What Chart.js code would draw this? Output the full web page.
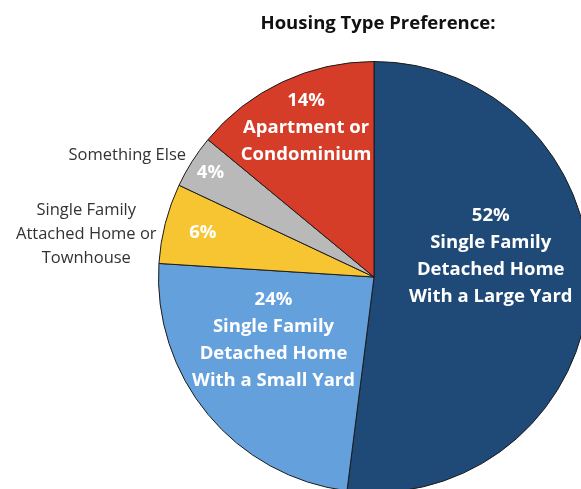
<!DOCTYPE html>
<html>
<head>
<meta charset="utf-8">
<script src="https://cdn.jsdelivr.net/npm/chart.js@4/dist/chart.umd.min.js"></script>
<style>
  html, body { margin: 0; padding: 0; width: 581px; height: 489px; overflow: hidden; background: #fff; }
  #title {
    position: absolute; left: 0; top: 9px; width: 756px; text-align: center;
    font: bold 18.5px "Open Sans", Lato, sans-serif; color: #111;
  }
  #pie { position: absolute; left: 0; top: 0; }
</style>
</head>
<body>
<canvas id="pie" width="600" height="500"></canvas>
<div id="title">Housing Type Preference:</div>
<script>
// Data: slices go clockwise from 12 o'clock
const categories = [
  "Single Family Detached Home With a Large Yard",
  "Single Family Detached Home With a Small Yard",
  "Single Family Attached Home or Townhouse",
  "Something Else",
  "Apartment or Condominium",
];
const values     = [52, 24, 6, 4, 14];
const colors     = ["#1f4a77", "#64a0dc", "#f7c531", "#b9b9b9", "#d63d29"];

// text inside each slice, and the name written outside for the thin ones
const insideLines = [
  ["52%", "Single Family", "Detached Home", "With a Large Yard"],
  ["24%", "Single Family", "Detached Home", "With a Small Yard"],
  ["6%"],
  ["4%"],
  ["14%", "Apartment or", "Condominium"],
];
const outsideLines = [
  null,
  null,
  ["Single Family", "Attached Home or", "Townhouse"],
  ["Something Else"],
  null,
];

// label placement: angle (deg, 0 = 3 o'clock) and distance as a share of radius
const insidePos  = [[-10, 0.55], [148, 0.55], [194.5, 0.82], [212.5, 0.90], [245.5, 0.76]];
const outsidePos = [null, null, [188.5, 1.35], [213, 1.04], null];
const outsideAlign = [null, null, "center", "right", null];

const sliceLabels = {
  id: "sliceLabels",
  afterDraw(chart) {
    const ctx  = chart.ctx;
    const meta = chart.getDatasetMeta(0);
    const lineH = 27;
    meta.data.forEach(function (arc, i) {
      const R = arc.outerRadius;
      ctx.save();
      ctx.textBaseline = "middle";

      //white text inside the slice
      let a = insidePos[i][0] * Math.PI / 180;
      let x = arc.x + Math.cos(a) * R * insidePos[i][1];
      let y = arc.y + Math.sin(a) * R * insidePos[i][1];
      let lines = insideLines[i];
      ctx.fillStyle = "#fff";
      ctx.textAlign = "center";
      ctx.font = "bold 18.5px 'Open Sans', Lato, sans-serif";
      lines.forEach(function (t, k) {
        ctx.fillText(t, x, y + (k - (lines.length - 1) / 2) * lineH);
      });

      //dark labels beside the small slices
      if (outsideLines[i]) {
        a = outsidePos[i][0] * Math.PI / 180;
        x = arc.x + Math.cos(a) * R * outsidePos[i][1];
        y = arc.y + Math.sin(a) * R * outsidePos[i][1];
        lines = outsideLines[i];
        ctx.fillStyle = "#333";
        ctx.textAlign = outsideAlign[i];
        ctx.font = "16.5px 'Open Sans', Lato, sans-serif";
        lines.forEach(function (t, k) {
          ctx.fillText(t, x, y + (k - (lines.length - 1) / 2) * 24);
        });
      }
      ctx.restore();
    });
  },
};

new Chart(document.getElementById("pie"), {
  type: "pie",
  data: {
    labels: categories,
    datasets: [{
      data:            values,
      backgroundColor: colors,
      borderColor:     "#1b1b1b",
      borderWidth:     1,
    }],
  },
  options: {
    responsive: false,
    animation:  false,
    // pie sits right/down so it is cut by the window edge like the reference
    layout: { padding: { left: 158, top: 61, right: 10, bottom: 7 } },
    plugins: {
      legend:  { display: false },
      tooltip: { enabled: false },
    },
  },
  plugins: [sliceLabels],
});
</script>
</body>
</html>
